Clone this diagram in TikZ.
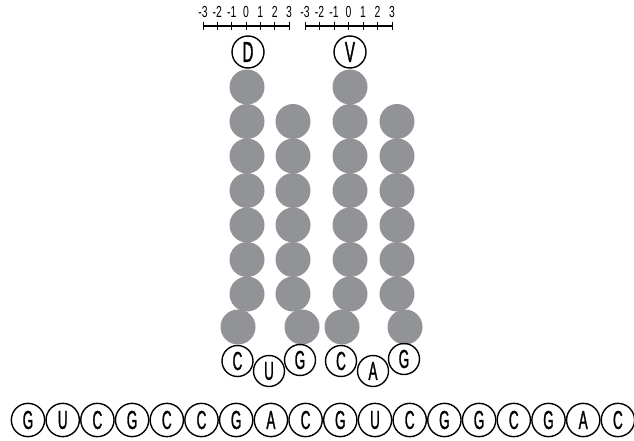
\documentclass[tikz,border=0pt]{standalone}
\usepackage{fontspec}
\setmainfont{Liberation Sans}[FakeStretch=0.52,FakeBold=1]
\newfontfamily\numfont{Liberation Sans}[FakeStretch=0.65]
\usepackage{tikz}
\definecolor{beadgray}{RGB}{146,147,151}

\begin{document}
\begin{tikzpicture}[x=1pt,y=-1pt,
        bead/.style={fill=beadgray,circle,minimum size=35pt,inner sep=0pt},
        tag/.style={draw,circle,line width=1.4pt,minimum size=32pt,inner sep=0pt,font=\fontsize{29}{29}\selectfont},
        loopbase/.style={draw,circle,line width=1.4pt,minimum size=31pt,inner sep=0pt,font=\fontsize{26}{26}\selectfont},
        rnabase/.style={draw,circle,line width=1.4pt,minimum size=33.3pt,inner sep=0pt,font=\fontsize{26}{26}\selectfont},
        ticklabel/.style={inner sep=0pt,font=\numfont\fontsize{16}{16}\selectfont}]
        \useasboundingbox (0,0) rectangle (634,441);

        %scales
        \coordinate (sa1) at (203,26); \coordinate (sb1) at (289,26);
        \coordinate (sa2) at (305,26); \coordinate (sb2) at (392,26);
        \draw[line width=1.1pt] (sa1)--(sb1) (sa2)--(sb2);
        \foreach \i/\x in {-3/203,-2/217.3,-1/231.7,0/246,1/260.3,2/274.7,3/289}{
            \node[ticklabel] (la\i) at (\x,12){\i};
            \draw[line width=0.9pt] (\x,22)--(\x,30);
        }
        \foreach \i/\x in {-3/305,-2/319.5,-1/334,0/348.5,1/363,2/377.5,3/392}{
            \node[ticklabel] (lb\i) at (\x,12){\i};
            \draw[line width=0.9pt] (\x,22)--(\x,30);
        }

        %beads
        \node[bead] (a1) at (247,87){}; \node[bead] (a2) at (247,121.5){}; \node[bead] (a3) at (247,156){};
        \node[bead] (a4) at (247,190.5){}; \node[bead] (a5) at (247,225){}; \node[bead] (a6) at (247,259.5){};
        \node[bead] (a7) at (247,294){}; \node[bead] (a8) at (238,327){};

        \node[bead] (b1) at (293,121.5){}; \node[bead] (b2) at (293,156){}; \node[bead] (b3) at (293,190.5){};
        \node[bead] (b4) at (293,225){}; \node[bead] (b5) at (293,259.5){}; \node[bead] (b6) at (293,294){};
        \node[bead] (b7) at (302,327){};

        \node[bead] (c1) at (350,87){}; \node[bead] (c2) at (350,121.5){}; \node[bead] (c3) at (350,156){};
        \node[bead] (c4) at (350,190.5){}; \node[bead] (c5) at (350,225){}; \node[bead] (c6) at (350,259.5){};
        \node[bead] (c7) at (350,294){}; \node[bead] (c8) at (342,327){};

        \node[bead] (d1) at (397,121.5){}; \node[bead] (d2) at (397,156){}; \node[bead] (d3) at (397,190.5){};
        \node[bead] (d4) at (397,225){}; \node[bead] (d5) at (397,259.5){}; \node[bead] (d6) at (397,294){};
        \node[bead] (d7) at (405,327){};

        %tags
        \node[tag] (D) at (248,52){D};
        \node[tag] (V) at (350,52){V};

        %loop
        \node[loopbase] (p1) at (237.5,361){C};
        \node[loopbase] (p2) at (269,371){U};
        \node[loopbase] (p3) at (300,360){G};
        \node[loopbase] (p4) at (341,361){C};
        \node[loopbase] (p5) at (373,371){A};
        \node[loopbase] (p6) at (404,359){G};

        %rna
        \node[rnabase] (r1) at (28,420){G};     \node[rnabase] (r2) at (62.7,420){U};
        \node[rnabase] (r3) at (97.4,420){C};   \node[rnabase] (r4) at (132.1,420){G};
        \node[rnabase] (r5) at (166.8,420){C};  \node[rnabase] (r6) at (201.5,420){C};
        \node[rnabase] (r7) at (236.2,420){G};  \node[rnabase] (r8) at (270.9,420){A};
        \node[rnabase] (r9) at (305.6,420){C};  \node[rnabase] (r10) at (340.3,420){G};
        \node[rnabase] (r11) at (375,420){U};   \node[rnabase] (r12) at (409.7,420){C};
        \node[rnabase] (r13) at (444.4,420){G}; \node[rnabase] (r14) at (479.1,420){G};
        \node[rnabase] (r15) at (513.8,420){C}; \node[rnabase] (r16) at (548.5,420){G};
        \node[rnabase] (r17) at (583.2,420){A}; \node[rnabase] (r18) at (617.9,420){C};
\end{tikzpicture}
\end{document}
